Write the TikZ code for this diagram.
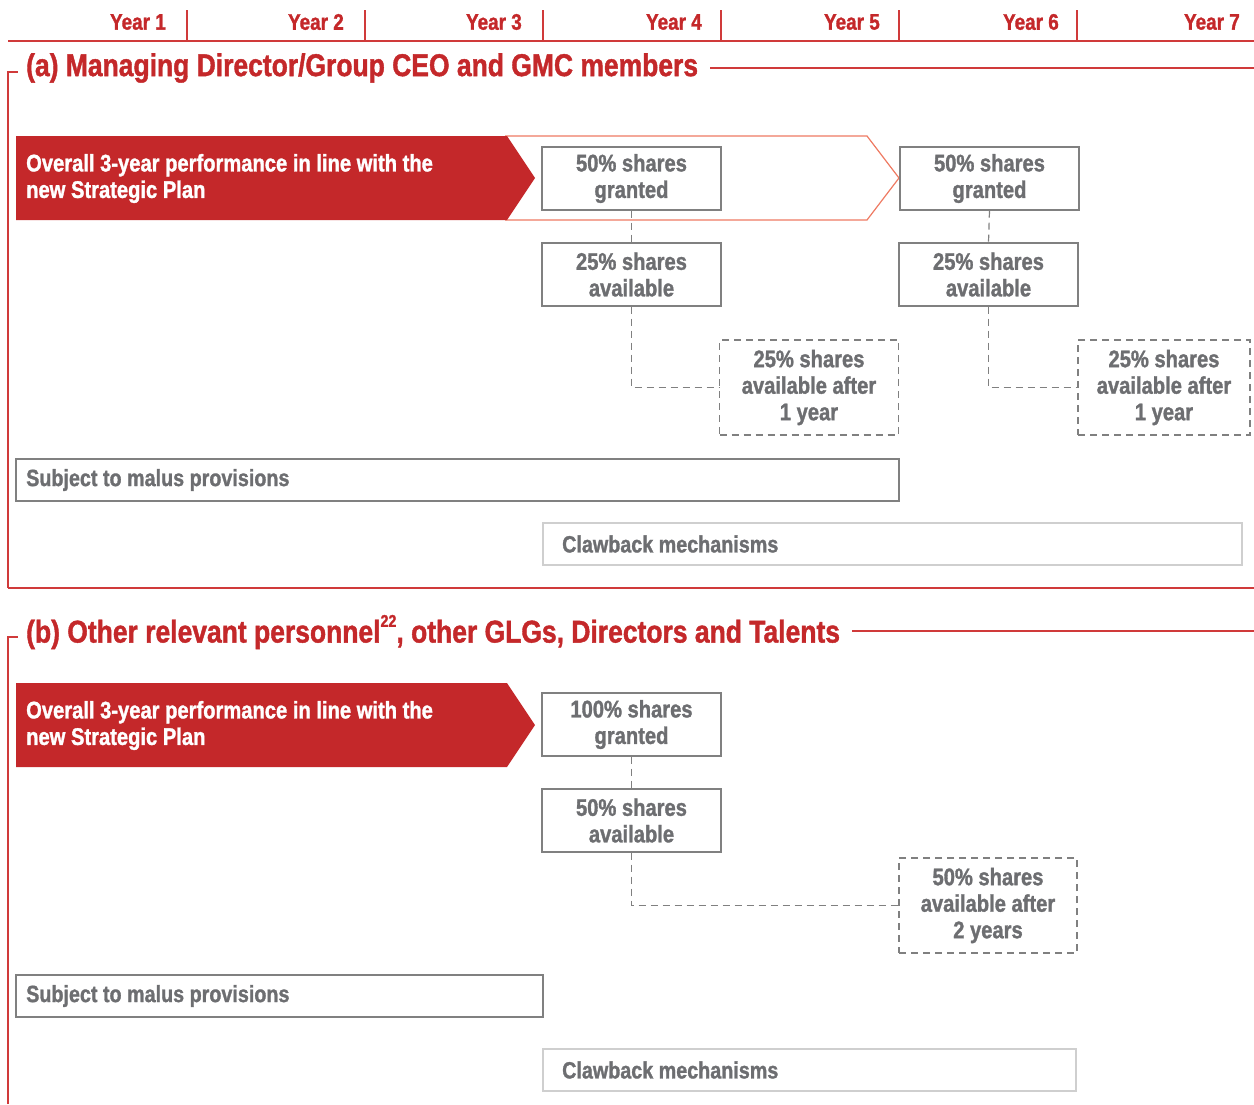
\documentclass[tikz,border=0pt]{standalone}
\usepackage{fontspec}
\setmainfont{Liberation Sans}[FakeStretch=0.84, BoldFeatures={FakeBold=1.3}]
\definecolor{bred}{HTML}{C4282A}
\definecolor{lred}{HTML}{D03A3A}
\definecolor{sal}{HTML}{EE7A62}
\definecolor{tgray}{HTML}{6D6E71}
\definecolor{bgray}{HTML}{808080}
\definecolor{lgray}{HTML}{CFCFCF}
\tikzset{
  yearlbl/.style={anchor=east, text=bred, font=\bfseries\fontsize{22.5}{26}\selectfont, inner sep=0},
  ttl/.style={anchor=west, text=bred, font=\bfseries\fontsize{31.5}{36}\selectfont, inner sep=0},
  arrtxt/.style={anchor=west, text=white, align=left, font=\bfseries\fontsize{24}{26.5}\selectfont, inner sep=0},
  sbox/.style={draw=bgray, line width=1.2pt, fill=white, text=tgray, align=center, inner sep=0,
     font=\bfseries\fontsize{24}{26.5}\selectfont, minimum width=179pt, minimum height=63pt},
  dbox/.style={sbox, draw=bgray, dash pattern=on 7pt off 5pt, minimum height=95pt},
  wbox/.style={draw=bgray, line width=1.2pt, text=tgray, inner sep=0},
  wtxt/.style={anchor=west, text=tgray, inner sep=0, font=\bfseries\fontsize{23.5}{26}\selectfont},
  conn/.style={draw=bgray, line width=1.2pt, dash pattern=on 7pt off 5pt},
  frame/.style={draw=lred, line width=1.3pt},
}
\begin{document}
\begin{tikzpicture}[x=1pt,y=-1pt]
\useasboundingbox (0,0) rectangle (1254,1104);
% header
\draw[frame] (8,41) -- (1254,41);
\foreach \s in {187,365,543,721,899,1077} \draw[frame] (\s,10) -- (\s,41);
\node[yearlbl] (y1) at (166,22) {Year 1};
\node[yearlbl] (y2) at (344,22) {Year 2};
\node[yearlbl] (y3) at (522,22) {Year 3};
\node[yearlbl] (y4) at (702,22) {Year 4};
\node[yearlbl] (y5) at (880,22) {Year 5};
\node[yearlbl] (y6) at (1059,22) {Year 6};
\node[yearlbl] (y7) at (1240,22) {Year 7};

% ---------- section a
\node[ttl] (ta) at (26,68) {(a) Managing Director/Group CEO and GMC members};
\draw[frame] (8,588) -- (8,72) -- (18,72);
\draw[frame] ([xshift=12pt]ta.east) -- (1254,68);
\draw[frame] (8,588) -- (1254,588);

\draw[draw=sal, line width=1.2pt] (505,136) -- (867,136) -- (899,178) -- (867,220) -- (505,220);
\fill[bred] (16,136) -- (507,136) -- (535,178) -- (507,220) -- (16,220) -- cycle;
\node[arrtxt] (pa) at (26,178.5) {Overall 3-year performance in line with the\\new Strategic Plan};

\node[sbox] (g1) at (631.5,178.5) {50\% shares\\granted};
\node[sbox] (g2) at (989.5,178.5) {50\% shares\\granted};
\node[sbox] (a1) at (631.5,274.5) {25\% shares\\available};
\node[sbox] (a2) at (988.5,274.5) {25\% shares\\available};
\node[dbox] (d1) at (809,387.5) {25\% shares\\available after\\1 year};
\node[dbox, minimum width=172pt] (d2) at (1164,387.5) {25\% shares\\available after\\1 year};
\draw[conn] (g1.south) -- (a1.north);
\draw[conn] (g2.south) -- (a2.north);
\draw[conn] (a1.south) |- (d1.west);
\draw[conn] (a2.south) |- (d2.west);

\node[wbox, minimum width=883pt, minimum height=42pt] (m1) at (457.5,480) {};
\node[wtxt] (m1t) at (26,480) {Subject to malus provisions};
\node[wbox, draw=lgray, minimum width=699pt, minimum height=42pt] (c1) at (892.5,544) {};
\node[wtxt] (c1t) at (562,544) {Clawback mechanisms};

% ---------- section b
\node[ttl] (tb) at (26,632) {(b) Other relevant personnel\raisebox{0.5em}{\fontsize{17}{20}\selectfont 22}, other GLGs, Directors and Talents};
\draw[frame] (8,1104) -- (8,637) -- (18,637);
\draw[frame] ([xshift=12pt]tb.east |- 0,631) -- (1254,631);

\fill[bred] (16,683) -- (507,683) -- (535,725) -- (507,767) -- (16,767) -- cycle;
\node[arrtxt] (pb) at (26,725.5) {Overall 3-year performance in line with the\\new Strategic Plan};

\node[sbox] (g3) at (631.5,724.5) {100\% shares\\granted};
\node[sbox] (a3) at (631.5,820.5) {50\% shares\\available};
\node[dbox, minimum width=178pt] (d3) at (988,905.5) {50\% shares\\available after\\2 years};
\draw[conn] (g3.south) -- (a3.north);
\draw[conn] (a3.south) |- (d3.west);

\node[wbox, minimum width=527pt, minimum height=42pt] (m2) at (279.5,996) {};
\node[wtxt] (m2t) at (26,996) {Subject to malus provisions};
\node[wbox, draw=lgray, minimum width=533pt, minimum height=42pt] (c2) at (809.5,1070) {};
\node[wtxt] (c2t) at (562,1070) {Clawback mechanisms};
\end{tikzpicture}
\end{document}
